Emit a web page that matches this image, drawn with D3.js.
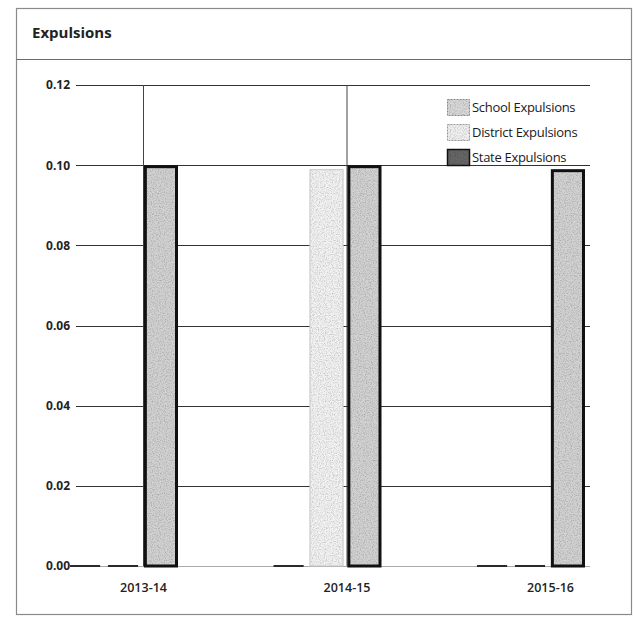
<!DOCTYPE html>
<html>
<head>
<meta charset="utf-8">
<script src="https://cdn.jsdelivr.net/npm/d3@7"></script>
<style>
  html, body { margin: 0; padding: 0; background: #fff; }
  svg { display: block; }
</style>
</head>
<body>
<svg id="chart" width="635" height="622"></svg>
<script>
// School years shown on the x axis
const categories = ["2013-14", "2014-15", "2015-16"];

// Expulsion rates per series
const series = ["School Expulsions", "District Expulsions", "State Expulsions"];
const schoolValues = [0.000, 0.000, 0.000];
const districtValues = [0.000, 0.099, 0.000];
const stateValues = [0.100, 0.100, 0.099];

// y axis ticks
const yTicks = [0.00, 0.02, 0.04, 0.06, 0.08, 0.10, 0.12];

const valuesBySeries = [schoolValues, districtValues, stateValues];
const rows = [];
categories.forEach((c, ci) => {
  series.forEach((s, si) => rows.push({ category: c, series: s, value: valuesBySeries[si][ci] }));
});

const svg = d3.select("#chart");
const W = 635, H = 622;
const margin = { left: 76, top: 85, right: 45, bottom: 56 };
const plotW = W - margin.left - margin.right;
const plotH = H - margin.top - margin.bottom;

// Speckled texture used for the bar fills
const defs = svg.append("defs");
const grain = defs.append("filter").attr("id", "grain").attr("x", 0).attr("y", 0).attr("width", 1).attr("height", 1);
grain.append("feTurbulence").attr("type", "fractalNoise").attr("baseFrequency", 0.85).attr("numOctaves", 2).attr("seed", 3).attr("result", "noise");
grain.append("feColorMatrix").attr("in", "noise").attr("type", "matrix")
  .attr("values", "0 0 0 0 0.45  0 0 0 0 0.45  0 0 0 0 0.45  0 0 0 -1.6 0.95").attr("result", "speck");
grain.append("feComposite").attr("in", "speck").attr("in2", "SourceGraphic").attr("operator", "in").attr("result", "specks");
grain.append("feBlend").attr("in", "SourceGraphic").attr("in2", "specks").attr("mode", "multiply");

// Panel frame and header
svg.append("rect").attr("x", 16.5).attr("y", 8.5).attr("width", 615).attr("height", 606)
  .attr("fill", "#fff").attr("stroke", "#8a8a8a").attr("stroke-width", 1.2);
svg.append("line").attr("x1", 16.5).attr("x2", 631.5).attr("y1", 59.5).attr("y2", 59.5)
  .attr("stroke", "#6a6a6a").attr("stroke-width", 1.2);
svg.append("text").attr("x", 32).attr("y", 38)
  .attr("font-family", "'Open Sans', sans-serif").attr("font-weight", 700).attr("font-size", 15)
  .attr("fill", "#222").text("Expulsions");

const g = svg.append("g").attr("transform", `translate(${margin.left},${margin.top})`);

const y = d3.scaleLinear().domain([0, 0.12]).range([plotH, 0]);
const x0 = d3.scalePoint().domain(categories).range([67, 474]);
// bars sit left of each category marker, with the state bar starting on it
const x1 = d3.scaleBand().domain(series).range([-75, 35]).paddingInner(0.1).paddingOuter(0);

// Horizontal gridlines
g.append("g").selectAll("line").data(yTicks.filter(t => t > 0)).join("line")
  .attr("x1", 0).attr("x2", plotW)
  .attr("y1", d => Math.round(y(d)) + 0.5).attr("y2", d => Math.round(y(d)) + 0.5)
  .attr("stroke", "#333").attr("stroke-width", 1);
g.append("line").attr("x1", 0).attr("x2", plotW)
  .attr("y1", Math.round(y(0)) + 0.5).attr("y2", Math.round(y(0)) + 0.5)
  .attr("stroke", "#aaa").attr("stroke-width", 1);

// Category markers
g.append("g").selectAll("line").data(categories.slice(0, 2)).join("line")
  .attr("x1", d => x0(d) + 0.5).attr("x2", d => x0(d) + 0.5)
  .attr("y1", y(0.12)).attr("y2", y(0))
  .attr("stroke", "#444").attr("stroke-width", 1);

// y axis labels
const yAxis = d3.axisLeft(y).tickValues(yTicks).tickFormat(d3.format(".2f")).tickSize(0).tickPadding(6);
g.append("g").call(yAxis).call(a => a.select(".domain").remove())
  .selectAll("text").attr("font-family", "'Noto Sans', sans-serif").attr("font-weight", 700)
  .attr("font-size", 12).attr("fill", "#222");

// x axis labels
const xAxis = d3.axisBottom(x0).tickSize(0).tickPadding(17);
g.append("g").attr("transform", `translate(0,${plotH})`).call(xAxis)
  .call(a => a.select(".domain").remove())
  .selectAll("text").attr("font-family", "'Open Sans', sans-serif").attr("font-weight", 600)
  .attr("font-size", 12.5).attr("fill", "#222");

const style = {
  "School Expulsions": { fill: "#dcdcdc", stroke: "#555", sw: 1, swatch: "#d8d8d8", swatchStroke: "#888" },
  "District Expulsions": { fill: "#f2f2f2", stroke: "#c8c8c8", sw: 1, swatch: "#f0f0f0", swatchStroke: "#999" },
  "State Expulsions": { fill: "#d2d2d2", stroke: "#111", sw: 3, swatch: "#666", swatchStroke: "#111" }
};

const bars = g.append("g");
const nonZero = rows.filter(d => d.value > 0);
const zero = rows.filter(d => d.value === 0);

const barX = d => x0(d.category) + x1(d.series) + style[d.series].sw / 2;
const barW = d => x1.bandwidth() - style[d.series].sw;
const barY = d => y(d.value) + style[d.series].sw / 2;
const barH = d => y(0) - y(d.value) - style[d.series].sw / 2;

// Bar fills (speckled)
bars.selectAll("rect.fill").data(nonZero).join("rect").attr("class", "fill")
  .attr("x", barX).attr("width", barW).attr("y", barY).attr("height", barH)
  .attr("fill", d => style[d.series].fill)
  .attr("filter", "url(#grain)");

// Bar outlines
bars.selectAll("rect.outline").data(nonZero).join("rect").attr("class", "outline")
  .attr("x", barX).attr("width", barW).attr("y", barY).attr("height", barH)
  .attr("fill", "none")
  .attr("stroke", d => style[d.series].stroke)
  .attr("stroke-width", d => style[d.series].sw);

// Zero-height bars collapse to their outline on the baseline
bars.selectAll("line").data(zero).join("line")
  .attr("x1", d => x0(d.category) + x1(d.series) + 2)
  .attr("x2", d => x0(d.category) + x1(d.series) + x1.bandwidth() - 2)
  .attr("y1", y(0)).attr("y2", y(0))
  .attr("stroke", "#2a2a2a").attr("stroke-width", 2);

// Legend
const legend = g.append("g").attr("transform", `translate(${447 - margin.left},${99 - margin.top})`);
series.forEach((s, i) => {
  const row = legend.append("g").attr("transform", `translate(0,${i * 25})`);
  row.append("rect").attr("x", 0.5).attr("y", 0.5).attr("width", 22).attr("height", 16)
    .attr("fill", style[s].swatch).attr("filter", "url(#grain)");
  row.append("rect").attr("x", 0.5).attr("y", 0.5).attr("width", 22).attr("height", 16)
    .attr("fill", "none").attr("stroke", style[s].swatchStroke)
    .attr("stroke-width", i === 2 ? 1.5 : 1).attr("stroke-dasharray", i === 2 ? null : "2,1");
  row.append("text").attr("x", 25).attr("y", 13)
    .attr("font-family", "'Open Sans', sans-serif").attr("font-size", 13).attr("letter-spacing", -0.3)
    .attr("fill", "#1a1a1a").text(s);
});
</script>
</body>
</html>
